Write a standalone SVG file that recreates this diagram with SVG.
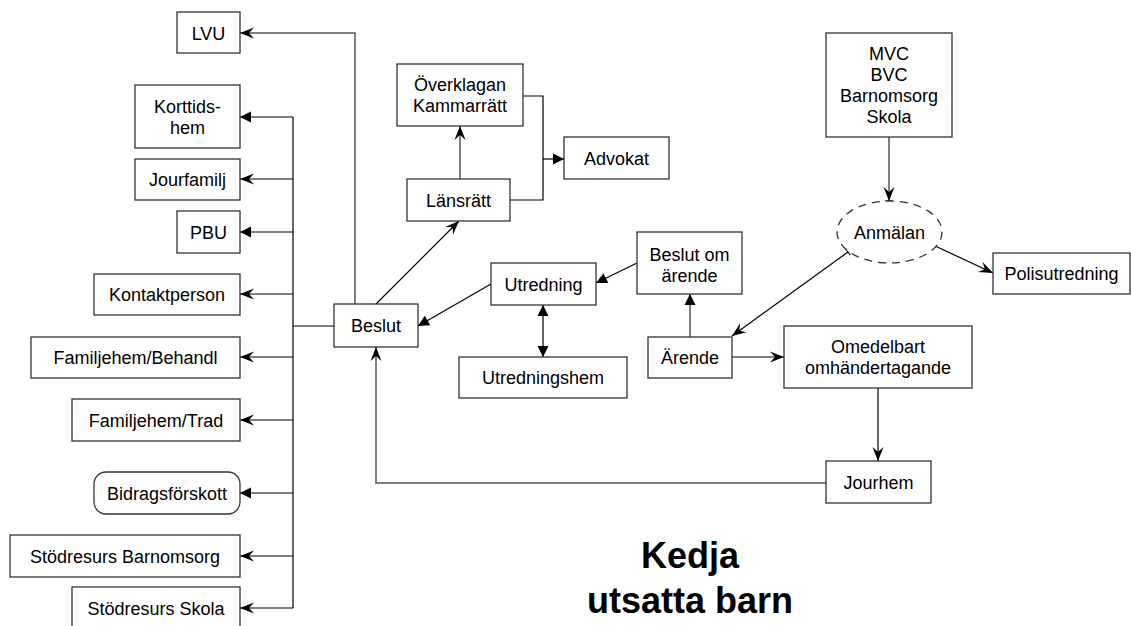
<svg xmlns="http://www.w3.org/2000/svg" width="1131" height="626" viewBox="0 0 1131 626">
<style>
  .box { fill: #fff; stroke: #333; stroke-width: 1.3; }
  .t { font-family: "Liberation Sans", Arial, sans-serif; font-size: 18px; fill: #000; text-anchor: middle; }
  .title { font-family: "Liberation Sans", Arial, sans-serif; font-size: 36px; font-weight: bold; fill: #000; text-anchor: middle; }
  .c { fill: none; stroke: #000; stroke-width: 1.2; }
  .g { stroke: #555; stroke-width: 1.5; }
  .st { marker-end: url(#stealth); }
  .tr { marker-end: url(#tri); }
</style>
<defs>
  <marker id="stealth" viewBox="-15 -6 16 12" refX="0" refY="0" markerWidth="16" markerHeight="12" markerUnits="userSpaceOnUse" orient="auto">
    <path d="M0,0 L-14,-5.5 L-9,0 L-14,5.5 Z" fill="#000"/>
  </marker>
  <marker id="tri" viewBox="-12 -6 13 12" refX="0" refY="0" markerWidth="13" markerHeight="12" markerUnits="userSpaceOnUse" orient="auto">
    <path d="M0,0 L-11,-5.5 L-11,5.5 Z" fill="#000"/>
  </marker>
  <marker id="triStart" viewBox="-1 -6 13 12" refX="0" refY="0" markerWidth="13" markerHeight="12" markerUnits="userSpaceOnUse" orient="auto">
    <path d="M0,0 L11,-5.5 L11,5.5 Z" fill="#000"/>
  </marker>
  <marker id="stealthBar" viewBox="-15 -6 16 12" refX="0" refY="0" markerWidth="16" markerHeight="12" markerUnits="userSpaceOnUse" orient="auto">
    <path d="M0,0 L-14,-5.5 L-9,0 L-14,5.5 Z" fill="#000"/>
    <path d="M0,-4 L0,4" stroke="#000" stroke-width="1.2"/>
  </marker>
  <marker id="tick" viewBox="-1 -5 2 10" refX="0" refY="0" markerWidth="2" markerHeight="10" markerUnits="userSpaceOnUse" orient="auto">
    <path d="M0,-4 L0,4" stroke="#000" stroke-width="1.2"/>
  </marker>
</defs>
<rect width="1131" height="626" fill="#fff"/>

<g id="connectors">
  <polyline class="c g st" points="355,304 355,33 240,33"/>
  <line class="c" x1="293" y1="117" x2="293" y2="608"/>
  <line class="c tr" x1="293" y1="117" x2="240" y2="117"/>
  <line class="c st" x1="293" y1="179" x2="240" y2="179"/>
  <line class="c tr" x1="293" y1="232" x2="240" y2="232"/>
  <line class="c st" x1="293" y1="294" x2="240" y2="294"/>
  <line class="c st" x1="293" y1="357" x2="240" y2="357"/>
  <line class="c st" x1="293" y1="420" x2="240" y2="420"/>
  <line class="c tr" x1="293" y1="493" x2="240" y2="493"/>
  <line class="c st" x1="293" y1="556" x2="240" y2="556"/>
  <line class="c st" x1="293" y1="608" x2="240" y2="608"/>
  <line class="c" x1="293" y1="326" x2="334" y2="326" stroke-width="2.2"/>
  <line class="c st" x1="376" y1="304" x2="459" y2="221"/>
  <line class="c g st" x1="460" y1="179" x2="460" y2="126"/>
  <polyline class="c" points="510,200 543,200 543,96 523,96"/>
  <line class="c tr" x1="543" y1="159" x2="564" y2="159"/>
  <line class="c tr" x1="491" y1="284" x2="418" y2="326"/>
  <line class="c tr" x1="637" y1="263" x2="596" y2="283"/>
  <line class="c tr" x1="543" y1="305" x2="543" y2="357" marker-start="url(#triStart)"/>
  <line class="c g tr" x1="690" y1="337" x2="690" y2="294"/>
  <line class="c g" x1="889" y1="137" x2="889" y2="201" marker-end="url(#stealthBar)"/>
  <line class="c st" x1="933" y1="245" x2="993" y2="273" marker-start="url(#tick)"/>
  <line class="c st" x1="848" y1="252" x2="732" y2="336" marker-start="url(#tick)"/>
  <line class="c st" x1="732" y1="357" x2="784" y2="357"/>
  <line class="c st" x1="878" y1="388" x2="878" y2="461"/>
  <polyline class="c g st" points="826,483 376,483 376,347"/>
</g>

<g id="lvu"><rect class="box" x="177" y="12" width="63" height="41"/><text class="t" x="208.5" y="39.5">LVU</text></g>
<g id="korttidshem"><rect class="box" x="135" y="85" width="105" height="63"/><text class="t" x="187.5" y="113">Korttids-</text><text class="t" x="187.5" y="134">hem</text></g>
<g id="jourfamilj"><rect class="box" x="135" y="159" width="105" height="41"/><text class="t" x="187.5" y="186">Jourfamilj</text></g>
<g id="pbu"><rect class="box" x="177" y="211" width="63" height="42"/><text class="t" x="208.5" y="238.5">PBU</text></g>
<g id="kontaktperson"><rect class="box" x="94" y="274" width="146" height="41"/><text class="t" x="167" y="301">Kontaktperson</text></g>
<g id="familjehem-behandl"><rect class="box" x="31" y="337" width="209" height="41"/><text class="t" x="135.5" y="364">Familjehem/Behandl</text></g>
<g id="familjehem-trad"><rect class="box" x="72" y="399" width="168" height="42"/><text class="t" x="156" y="426.5">Familjehem/Trad</text></g>
<g id="bidragsforskott"><rect class="box" x="94" y="472" width="146" height="42" rx="12" ry="12"/><text class="t" x="167" y="499.5">Bidragsförskott</text></g>
<g id="stodresurs-barnomsorg"><rect class="box" x="10" y="535" width="230" height="42"/><text class="t" x="125" y="562.5">Stödresurs Barnomsorg</text></g>
<g id="stodresurs-skola"><rect class="box" x="72" y="587" width="168" height="45"/><text class="t" x="156" y="615">Stödresurs Skola</text></g>

<g id="beslut"><rect class="box" x="334" y="304" width="84" height="43"/><text class="t" x="376" y="332">Beslut</text></g>
<g id="overklagan"><rect class="box" x="397" y="64" width="126" height="62"/><text class="t" x="460" y="91">Överklagan</text><text class="t" x="460" y="112">Kammarrätt</text></g>
<g id="lansratt"><rect class="box" x="407" y="179" width="103" height="42"/><text class="t" x="458.5" y="206.5">Länsrätt</text></g>
<g id="advokat"><rect class="box" x="564" y="137" width="105" height="42"/><text class="t" x="616.5" y="164.5">Advokat</text></g>
<g id="utredning"><rect class="box" x="491" y="263" width="105" height="42"/><text class="t" x="543.5" y="290.5">Utredning</text></g>
<g id="beslut-om-arende"><rect class="box" x="637" y="232" width="105" height="62"/><text class="t" x="689.5" y="261">Beslut om</text><text class="t" x="689.5" y="282">ärende</text></g>
<g id="utredningshem"><rect class="box" x="459" y="357" width="168" height="41"/><text class="t" x="543" y="384">Utredningshem</text></g>
<g id="arende"><rect class="box" x="648" y="337" width="84" height="41"/><text class="t" x="690" y="364">Ärende</text></g>
<g id="mvc"><rect class="box" x="826" y="33" width="126" height="104"/><text class="t" x="889" y="60">MVC</text><text class="t" x="889" y="81">BVC</text><text class="t" x="889" y="102">Barnomsorg</text><text class="t" x="889" y="123">Skola</text></g>
<g id="anmalan"><ellipse cx="889.5" cy="232" rx="52.5" ry="31" fill="#fff" stroke="#333" stroke-width="1.3" stroke-dasharray="8,6"/><text class="t" x="889.5" y="238.5">Anmälan</text></g>
<g id="polisutredning"><rect class="box" x="993" y="253" width="137" height="41"/><text class="t" x="1061.5" y="280">Polisutredning</text></g>
<g id="omedelbart"><rect class="box" x="784" y="326" width="188" height="62"/><text class="t" x="878" y="353">Omedelbart</text><text class="t" x="878" y="374">omhändertagande</text></g>
<g id="jourhem"><rect class="box" x="826" y="461" width="105" height="42"/><text class="t" x="878.5" y="488.5">Jourhem</text></g>

<g id="title"><text class="title" x="690" y="568">Kedja</text><text class="title" x="690" y="613">utsatta barn</text></g>
</svg>
